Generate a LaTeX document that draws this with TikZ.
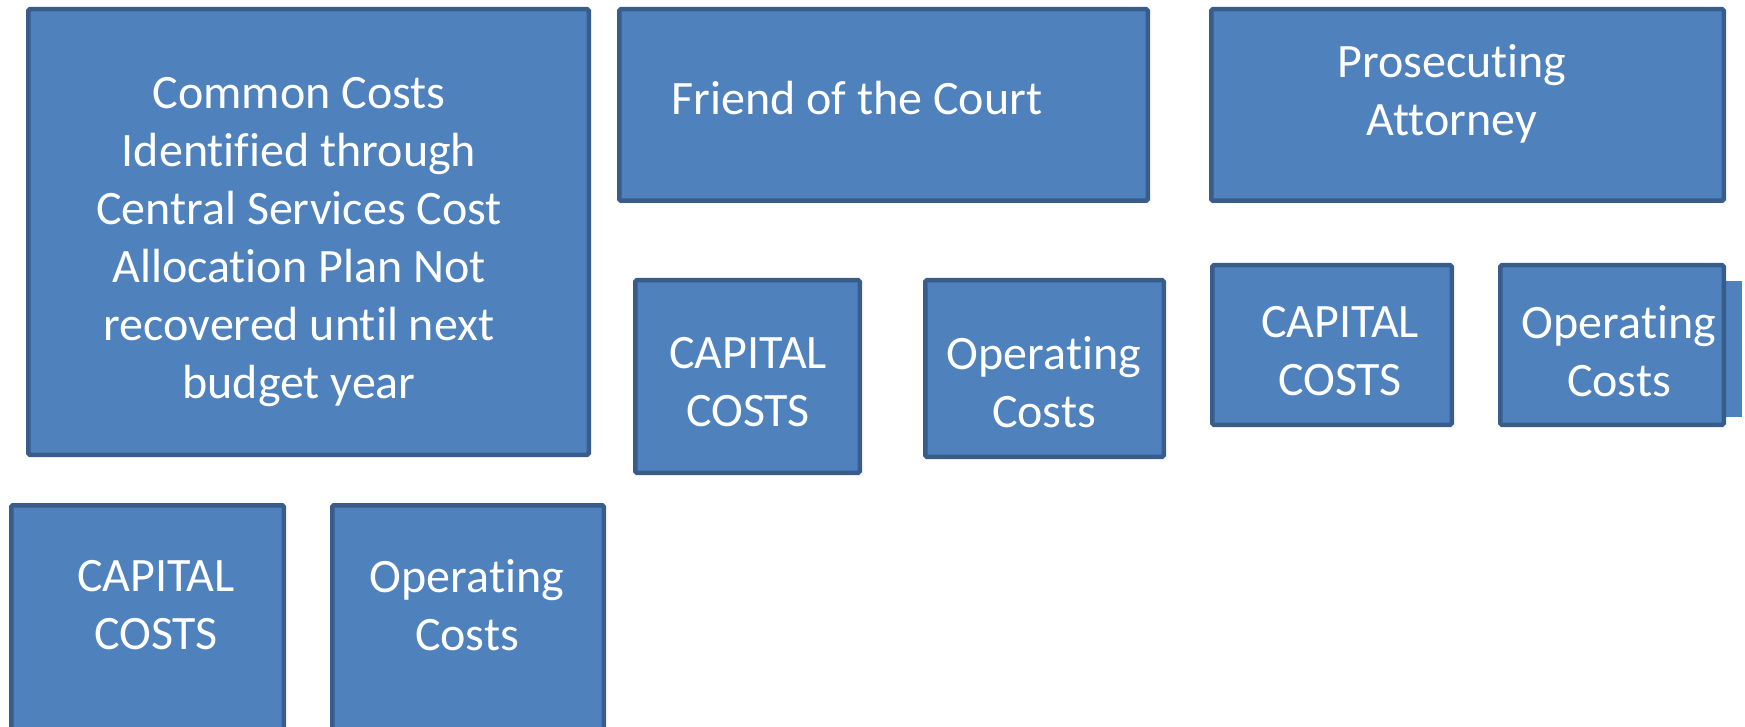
\documentclass[tikz,border=0pt]{standalone}
\usepackage{fontspec}
\setmainfont{Carlito}[Ligatures=NoCommon]
\tikzset{
  costbox/.style={draw=boxline, fill=boxfill, line width=4.5pt, rounded corners=1.5pt, inner sep=0pt},
  costtxt/.style={text=white, align=center, inner sep=0pt, font=\fontsize{48}{58}\selectfont}
}
\definecolor{boxfill}{HTML}{4F81BD}
\definecolor{boxline}{HTML}{385D8A}
\begin{document}
\begin{tikzpicture}[x=1pt,y=-1pt]
  \useasboundingbox (0,0) rectangle (1745,727);
  \clip (0,0) rectangle (1745,727);
  % top row
  \node[costbox, minimum width=560.5pt, minimum height=445.5pt] (common) at (308.5,232) {};
  \node[costbox, minimum width=528.5pt, minimum height=191.5pt] (friend) at (883.5,105) {};
  \node[costbox, minimum width=512.5pt, minimum height=191.5pt] (prosec) at (1467.5,105) {};
  % second row
  \node[costbox, minimum width=224.5pt, minimum height=192.5pt] (friendcap) at (747.5,376.5) {};
  \node[costbox, minimum width=238.5pt, minimum height=176.5pt] (friendop) at (1044.5,368.5) {};
  \node[costbox, minimum width=239.5pt, minimum height=159.5pt] (proseccap) at (1332,345) {};
  \fill[boxfill] (1720,281) rectangle (1742,417);
  \node[costbox, minimum width=223.5pt, minimum height=159.5pt] (prosecop) at (1612,345) {};
  % bottom row
  \node[costbox, minimum width=272.5pt, minimum height=252.5pt] (commoncap) at (147.5,631.5) {};
  \node[costbox, minimum width=271.5pt, minimum height=252.5pt] (commonop) at (468,631.5) {};
  % texts
  \node[costtxt] (commontxt) at (299,242) {Common Costs\\Identified through\\Central Services Cost\\Allocation Plan Not\\recovered until next\\budget year};
  \node[costtxt] (friendtxt) at (857,98) {Friend of the Court};
  \node[costtxt] (prosectxt) at (1452,94) {Prosecuting\\Attorney};
  \node[costtxt] (friendcaptxt) at (748,382) {CAPITAL\\COSTS};
  \node[costtxt] (friendoptxt) at (1044,382) {Operating\\Costs};
  \node[costtxt] (proseccaptxt) at (1340,351) {CAPITAL\\COSTS};
  \node[costtxt] (prosecoptxt) at (1619,351) {Operating\\Costs};
  \node[costtxt] (commoncaptxt) at (156,605) {CAPITAL\\COSTS};
  \node[costtxt] (commonoptxt) at (467,605) {Operating\\Costs};
\end{tikzpicture}
\end{document}
